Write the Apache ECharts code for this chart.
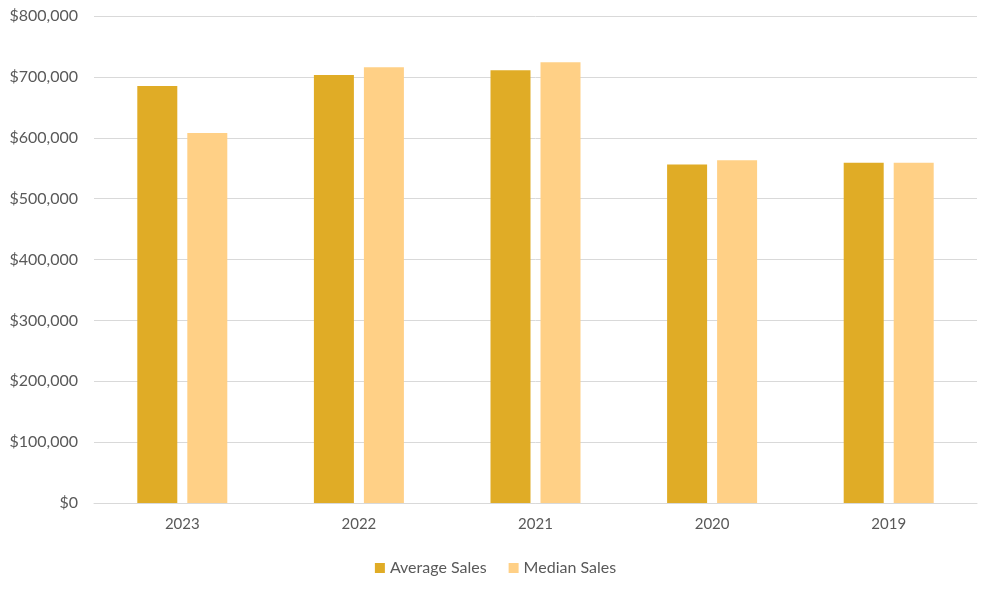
<!DOCTYPE html>
<html>
<head>
<meta charset="utf-8">
<script src="https://cdn.jsdelivr.net/npm/echarts@6/dist/echarts.min.js"></script>
<style>html,body{margin:0;padding:0;background:#fff;}#c{width:991px;height:594px;}</style>
</head>
<body>
<div id="c"></div>
<script>
const categories = ['2023', '2022', '2021', '2020', '2019'];
const averageSales = [685000, 703000, 711000, 556000, 559000];
const medianSales = [608000, 716000, 724000, 563000, 559000];
const seriesNames = ['Average Sales', 'Median Sales'];

const chart = echarts.init(document.getElementById('c'));
const font = 'Lato, "Open Sans", sans-serif';
chart.setOption({
  animation: false,
  textStyle: { fontFamily: font },
  grid: { left: 94, right: 14, top: 16, bottom: 91 },
  legend: {
    bottom: 13, left: 'center', itemWidth: 10, itemHeight: 10, itemGap: 22,
    icon: 'rect',
    textStyle: { fontSize: 16, color: '#595959', fontFamily: font }
  },
  xAxis: {
    type: 'category', data: categories,
    axisLine: { lineStyle: { color: '#D9D9D9', width: 1 } },
    axisTick: { show: false },
    axisLabel: { color: '#595959', fontSize: 15, margin: 14, fontFamily: font }
  },
  yAxis: {
    type: 'value', min: 0, max: 800000, interval: 100000,
    axisLine: { show: false }, axisTick: { show: false },
    splitLine: { lineStyle: { color: '#D9D9D9', width: 1 } },
    axisLabel: {
      color: '#595959', fontSize: 16, margin: 16, fontFamily: font,
      formatter: v => '$' + v.toLocaleString('en-US')
    }
  },
  series: [
    { name: seriesNames[0], type: 'bar', data: averageSales, barWidth: 40, barGap: '25%', itemStyle: { color: '#E0AC26' } },
    { name: seriesNames[1], type: 'bar', data: medianSales, barWidth: 40, itemStyle: { color: '#FFD086' } }
  ]
});
</script>
</body>
</html>
